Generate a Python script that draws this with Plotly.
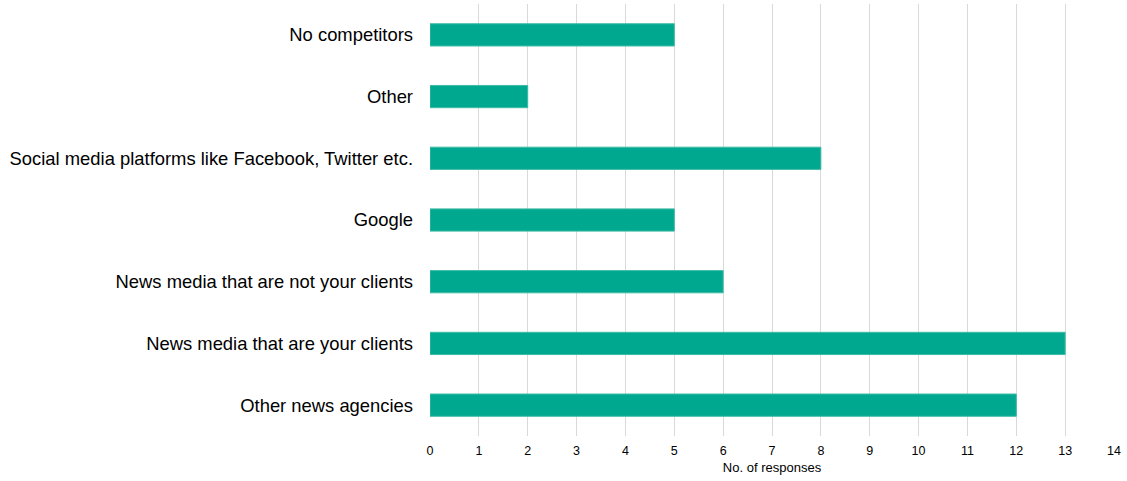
import plotly.graph_objects as go

# Survey answers, listed bottom to top as drawn
categories = [
    "Other news agencies",
    "News media that are your clients",
    "News media that are not your clients",
    "Google",
    "Social media platforms like Facebook, Twitter etc.",
    "Other",
    "No competitors",
]
responses = [12, 13, 6, 5, 8, 2, 5]
x_ticks = list(range(0, 15))

fig = go.Figure(
    go.Bar(
        x=responses,
        y=categories,
        orientation="h",
        width=0.36,
        marker=dict(color="#00A88F", line=dict(color="#3DBBA6", width=1)),
        hoverinfo="x+y",
    )
)

fig.update_layout(
    width=1127,
    height=481,
    margin=dict(l=430, r=13, t=4, b=45),
    paper_bgcolor="white",
    plot_bgcolor="white",
    font=dict(family="Liberation Sans, Arial, sans-serif", color="#000000"),
    showlegend=False,
    bargap=0.64,
)

fig.update_xaxes(
    range=[0, 14.0],
    tickvals=x_ticks,
    ticktext=[str(v) for v in x_ticks],
    showgrid=True,
    gridcolor="#D9D9D9",
    gridwidth=1,
    zeroline=False,
    showline=False,
    tickfont=dict(size=12.5),
    ticks="",
    ticklabelstandoff=5,
    title=dict(text="No. of responses", font=dict(size=13), standoff=6),
)

fig.update_yaxes(
    categoryorder="array",
    categoryarray=categories,
    range=[-0.5, 6.5],
    showgrid=False,
    zeroline=False,
    showline=False,
    ticks="",
    tickfont=dict(size=18.4),
    ticklabelstandoff=16,
)

fig.write_html("out.html")
